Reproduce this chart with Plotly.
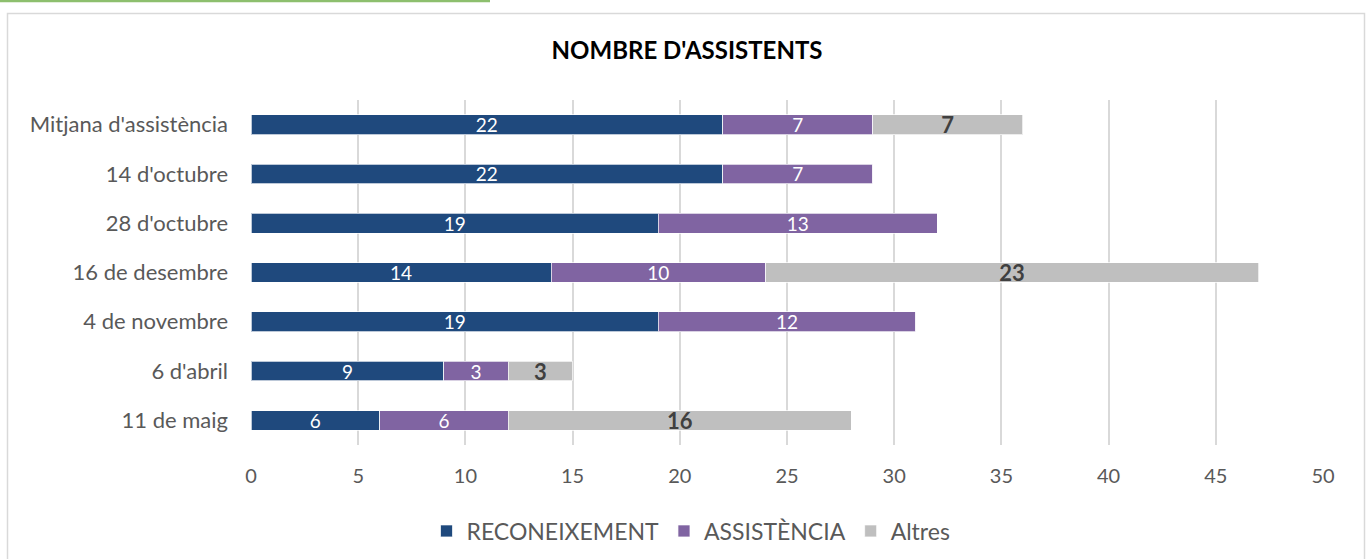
import plotly.graph_objects as go

categories = ["Mitjana d'assistència", "14 d'octubre", "28 d'octubre", "16 de desembre",
              "4 de novembre", "6 d'abril", "11 de maig"]
reconeixement = [22, 22, 19, 14, 19, 9, 6]
assistencia = [7, 7, 13, 10, 12, 3, 6]
altres = [7, 0, 0, 23, 0, 3, 16]
x_ticks = [0, 5, 10, 15, 20, 25, 30, 35, 40, 45, 50]

FONT = "Lato"
W, H = 1366, 559
L, R, T, B = 251, 43, 100, 114
pw, ph = W - L - R, H - T - B

def px_x(px):
    return (px - L) / pw

def px_y(py):
    return (H - B - py) / ph

def lbl(vals):
    return [str(v) if v else "" for v in vals]

fig = go.Figure()
series = [
    ("RECONEIXEMENT", reconeixement, "#1F497D", dict(color="white", size=19, family=FONT)),
    ("ASSISTÈNCIA", assistencia, "#8064A2", dict(color="white", size=19, family=FONT)),
    ("Altres", altres, "#BFBFBF", dict(color="#404040", size=22, family=FONT, weight="bold")),
]
for name, vals, col, tf in series:
    fig.add_trace(go.Bar(
        y=categories, x=vals, name=name, orientation="h",
        marker=dict(color=col, line=dict(color="rgba(255,255,255,0.7)", width=1)),
        text=lbl(vals), textposition="inside", insidetextanchor="middle",
        textangle=0, constraintext="none", textfont=tf, hoverinfo="x+name",
    ))

fig.update_layout(
    width=W, height=H,
    barmode="stack", bargap=0.6,
    margin=dict(l=L, r=R, t=T, b=B, autoexpand=False),
    paper_bgcolor="white", plot_bgcolor="white",
    font=dict(family=FONT, color="#595959", size=18),
    title=dict(text="<b>NOMBRE D'ASSISTENTS</b>", x=px_x(687), xref="paper",
               y=1 - 51 / H, yanchor="middle", xanchor="center",
               font=dict(family=FONT, size=24, color="black")),
    xaxis=dict(range=[0, 50], tickvals=x_ticks, showgrid=True, gridcolor="#D9D9D9",
               gridwidth=1.5, zeroline=False, showline=False, ticks="",
               ticklabelstandoff=17, tickfont=dict(size=20, color="#595959")),
    yaxis=dict(categoryorder="array", categoryarray=categories[::-1],
               showgrid=False, zeroline=False, showline=False, ticks="",
               ticklabelstandoff=22, tickfont=dict(size=22, color="#595959")),
    legend=dict(orientation="h", x=px_x(691), xanchor="center", y=px_y(531),
                yanchor="middle", font=dict(size=23, color="#595959"),
                traceorder="normal", itemclick=False),
    showlegend=True,
    shapes=[
        dict(type="rect", xref="paper", yref="paper",
             x0=px_x(7.5), x1=px_x(1364.5), y0=px_y(570), y1=px_y(13.5),
             line=dict(color="#D9D9D9", width=1.5), layer="below"),
        dict(type="line", xref="paper", yref="paper",
             x0=px_x(0), x1=px_x(490), y0=px_y(1), y1=px_y(1),
             line=dict(color="#8DBF6E", width=2.5)),
    ],
)

fig.write_html("out.html")
